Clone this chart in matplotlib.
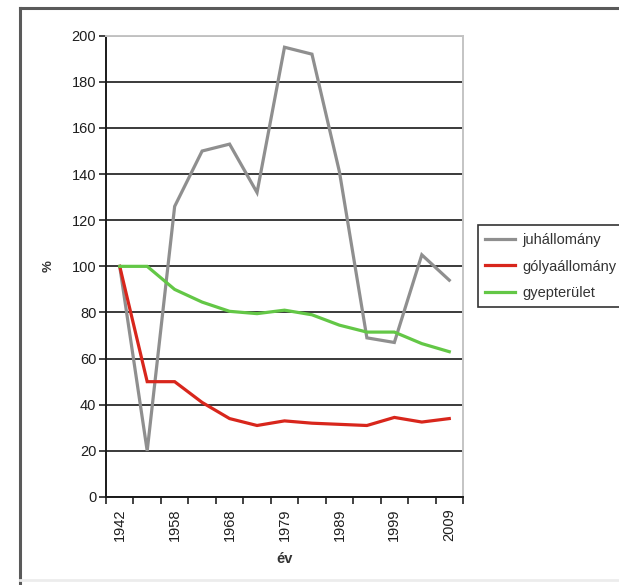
import numpy as np
import matplotlib
matplotlib.use("Agg")
import matplotlib.pyplot as plt
from matplotlib.lines import Line2D
from matplotlib.patches import Rectangle

# Index values (%), 1942 = 100
year_labels = ["1942", "1958", "1968", "1979", "1989", "1999", "2009"]
juhallomany = [100, 20, 126, 150, 153, 132, 195, 192, 141, 69, 67, 105, 94]
golyaallomany = [100, 50, 50, 41, 34, 31, 33, 32, 31.5, 31, 34.5, 32.5, 34]
gyepterulet = [100, 100, 90, 84.5, 80.5, 79.5, 81, 79, 74.5, 71.5, 71.5, 66.5, 63]
series_names = ["juhállomány", "gólyaállomány", "gyepterület"]
series_colors = ["#8f8f8f", "#d8261c", "#63c746"]

plt.rcParams["font.family"] = ["Liberation Sans", "DejaVu Sans"]

W, H = 619, 585
fig = plt.figure(figsize=(W / 100, H / 100), dpi=100)
fig.patch.set_facecolor("white")

ax = fig.add_axes([106 / W, 1 - 497 / H, (463 - 106) / W, (497 - 35.7) / H])

x = np.arange(len(juhallomany))
lines = []
for vals, col, name in zip([juhallomany, golyaallomany, gyepterulet], series_colors, series_names):
    ln, = ax.plot(x, vals, color=col, lw=2.3, solid_joinstyle="miter", label=name, zorder=3)
    lines.append(ln)

ax.set_xlim(-0.5, len(x) - 0.5)
ax.set_ylim(0, 200)

text_col = "#1e1e1e"

# horizontal gridlines
ax.set_yticks(np.arange(0, 201, 20))
ax.yaxis.grid(True, color="#3a3a3a", lw=1.4)
ax.set_axisbelow(True)
ax.tick_params(axis="y", direction="out", length=5, width=1.2, color="#222222",
               labelsize=10.5, pad=2, labelcolor=text_col)

# category boundaries as major ticks, labels on every second category
ax.set_xticks(np.arange(-0.5, len(x), 1.0))
ax.set_xticklabels([])
ax.set_xticks(np.arange(0, len(x), 2), minor=True)
ax.set_xticklabels(year_labels, minor=True, rotation=90, fontsize=10.5, color=text_col)
ax.tick_params(axis="x", which="major", direction="out", length=5, width=1.2, color="#222222")
ax.tick_params(axis="x", which="minor", length=0, pad=8)

for side in ["top", "right"]:
    ax.spines[side].set_color("#c4c4c4")
    ax.spines[side].set_linewidth(1.4)
for side in ["left", "bottom"]:
    ax.spines[side].set_color("#1a1a1a")
    ax.spines[side].set_linewidth(1.4)

ax.set_ylabel("%", fontsize=9.5, fontweight="bold", labelpad=12, color="#333333")
ax.set_xlabel("év", fontsize=10.5, fontweight="bold", labelpad=8, color="#333333")

# legend with its frame running off the right edge
fig.add_artist(Rectangle((478 / W, 1 - 307 / H), 200 / W, 82 / H, transform=fig.transFigure,
                         facecolor="white", edgecolor="#333333", lw=1.2, zorder=5))
leg = fig.legend(handles=lines, labels=series_names, loc="upper left",
                 bbox_to_anchor=(485 / W, 1 - 233 / H), frameon=False, fontsize=10.5,
                 handlelength=2.05, handletextpad=0.48, labelspacing=0.86, borderaxespad=0,
                 borderpad=0)
leg.set_zorder(6)
for t in leg.get_texts():
    t.set_color("#333333")

# outer chart border
fig.add_artist(Line2D([20 / W, 20 / W], [0, 1 - 7.5 / H], transform=fig.transFigure,
                      color="#5a5a5a", lw=2.2))
fig.add_artist(Line2D([20 / W, 1], [1 - 7.5 / H, 1 - 7.5 / H], transform=fig.transFigure,
                      color="#5a5a5a", lw=2.2))
fig.add_artist(Line2D([20 / W, 1], [5 / H, 5 / H], transform=fig.transFigure,
                      color="#ececec", lw=2.0))

fig.savefig("out.png", dpi=100, facecolor="white")
